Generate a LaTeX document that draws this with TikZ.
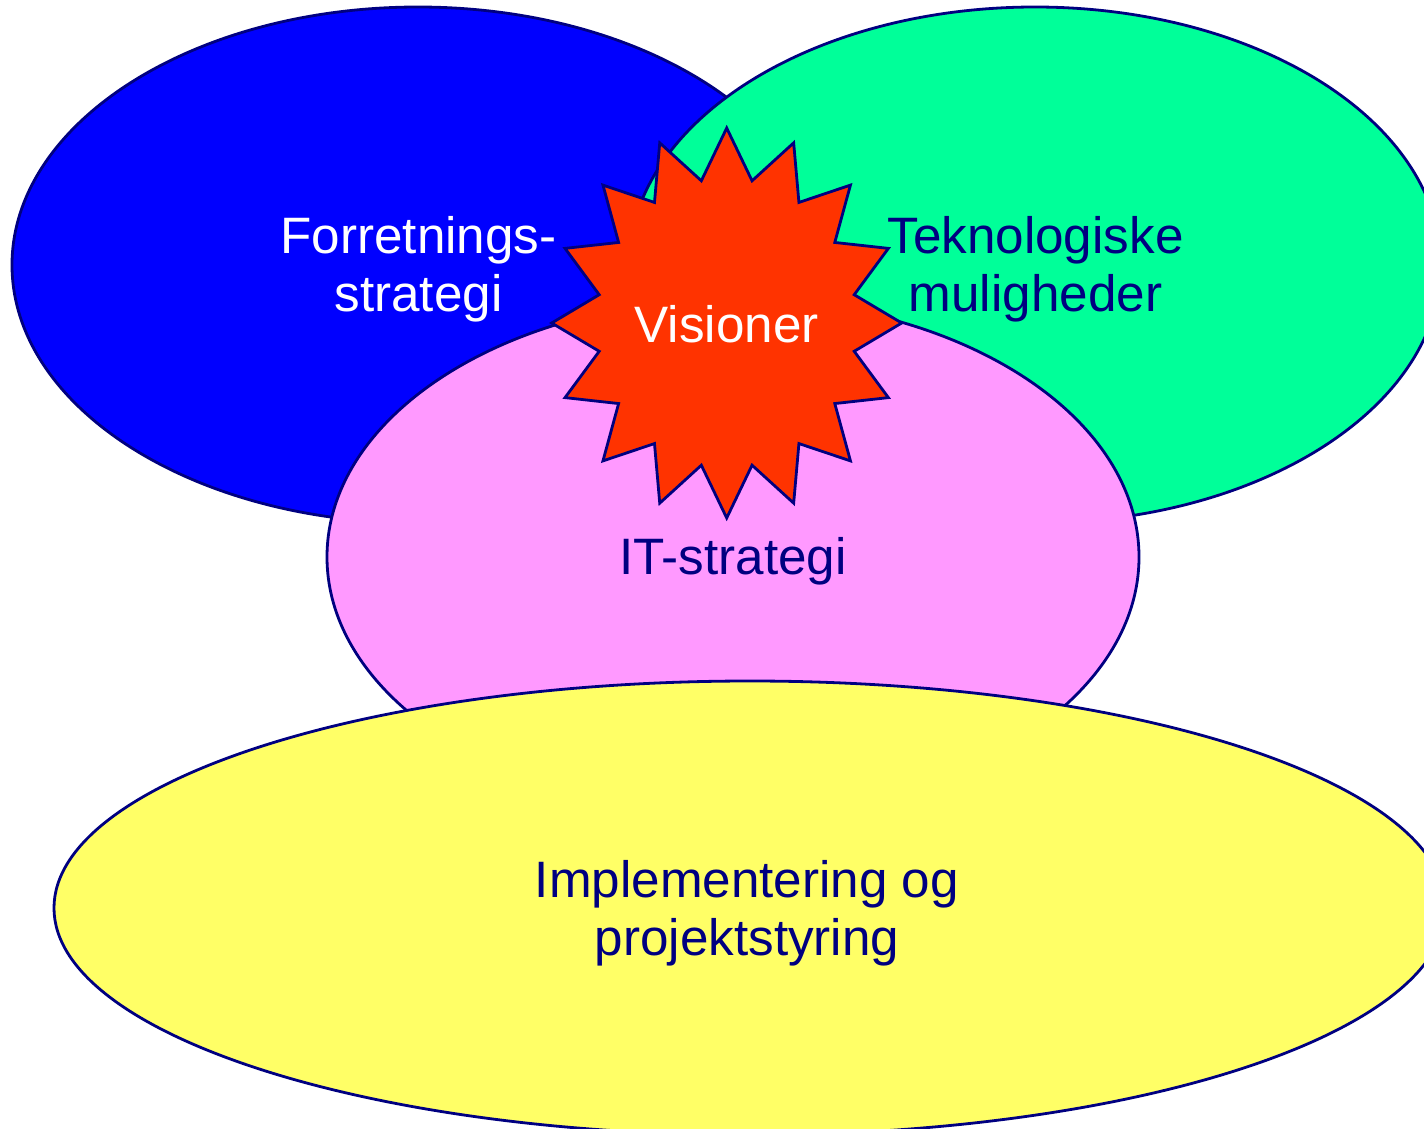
\documentclass[tikz,border=0pt]{standalone}
\usepackage{fontspec}
\setmainfont{Liberation Sans}
\definecolor{navy}{HTML}{000080}
\definecolor{cblue}{HTML}{0000FF}
\definecolor{cgreen}{HTML}{00FF99}
\definecolor{cpink}{HTML}{FF99FF}
\definecolor{cyellow}{HTML}{FFFF66}
\definecolor{cstar}{HTML}{FF3300}
\begin{document}
\begin{tikzpicture}[x=1pt,y=-1pt,
  blob/.style={draw=navy,line width=2.8pt,line join=miter},
  lbl/.style={font=\fontsize{51.2}{58}\selectfont,align=center,inner sep=0pt}]
\useasboundingbox (0,0) rectangle (1424,1129);
\begin{scope}
\clip (0,0) rectangle (1424,1129);
\fill[white] (0,0) rectangle (1424,1129);
\draw[blob,fill=cblue] (418,265) ellipse [x radius=406,y radius=258];
\draw[blob,fill=cgreen] (1035,265) ellipse [x radius=406,y radius=258];
\draw[blob,fill=cpink] (733,557) ellipse [x radius=406,y radius=258];
\draw[blob,fill=cstar] (726.7,{323-195})
  \foreach \k in {1,...,31}{
    -- ({726.7+ifthenelse(mod(\k,2)==0,175,130)*cos(90+11.25*\k)},
        {323-ifthenelse(mod(\k,2)==0,195,145)*sin(90+11.25*\k)})
  } -- cycle;
\draw[blob,fill=cyellow] (750,908) ellipse [x radius=696,y radius=227];
\end{scope}
\node[lbl,text=white] (fs) at (418.5,269.3) {Forretnings-\\strategi};
\node[lbl,text=navy] (tm) at (1035.5,269.3) {Teknologiske\\muligheder};
\node[lbl,text=white,anchor=base] (vis) at (726.7,342.7) {Visioner};
\node[lbl,text=navy,anchor=base] (it) at (733,574.3) {IT-strategi};
\node[lbl,text=navy] (imp) at (747,913) {Implementering og\\projektstyring};
\end{tikzpicture}
\end{document}
